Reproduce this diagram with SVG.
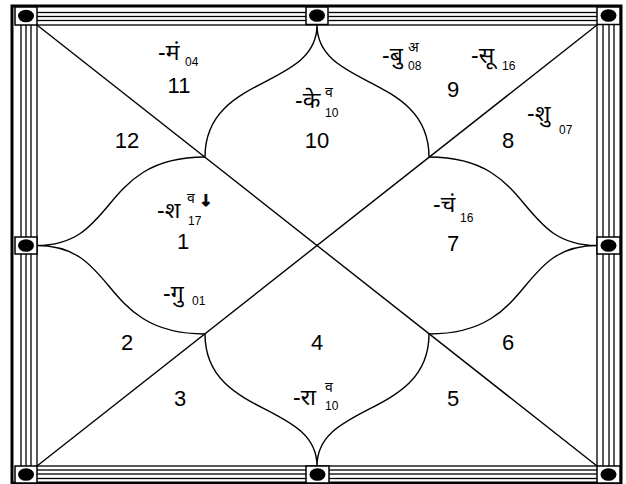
<svg xmlns="http://www.w3.org/2000/svg" width="626" height="484" viewBox="0 0 626 484">
<style>
.fr{fill:none;stroke:#000;stroke-width:1.3}
.bx{fill:#fff;stroke:#000;stroke-width:1.5}
.dot{fill:#000}
.ln{fill:none;stroke:#000;stroke-width:1.4}
.num{font-family:"Liberation Sans",Arial,sans-serif;font-size:22px;fill:#000;text-anchor:middle}
.pl{font-family:"Liberation Sans","Noto Sans",sans-serif;font-size:23px;fill:#000}
.sm{font-family:"Liberation Sans","Noto Sans",sans-serif;font-size:12px;fill:#000}
.sv{font-family:"Liberation Sans","Noto Sans",sans-serif;font-size:14px;fill:#000}
.ar{font-family:"DejaVu Sans",sans-serif;font-size:16px;font-weight:bold;fill:#000;stroke:#000;stroke-width:0.8}
</style>
<rect width="626" height="484" fill="#fff"/>
<g id="frame">
<rect x="12" y="6" width="609" height="477" fill="none" stroke="#000" stroke-width="3"/>
<rect class="fr" x="21" y="12.5" width="593" height="466"/>
<rect class="fr" x="26" y="16.5" width="583" height="457.5"/>
<rect class="fr" x="31" y="20.5" width="572" height="449.5"/>
<rect class="fr" x="37" y="25" width="560" height="441" stroke-width="1.5"/>
<rect class="bx" x="15" y="7" width="22" height="18"/>
<rect class="bx" x="306" y="7" width="22" height="17.5"/>
<rect class="bx" x="597" y="7" width="23" height="17.5"/>
<rect class="bx" x="15" y="237" width="22" height="17"/>
<rect class="bx" x="597" y="237" width="23" height="17"/>
<rect class="bx" x="15" y="466" width="22" height="17"/>
<rect class="bx" x="306" y="466" width="23" height="17"/>
<rect class="bx" x="597" y="466" width="23" height="17"/>
<ellipse class="dot" cx="26" cy="16" rx="8" ry="6.3"/>
<ellipse class="dot" cx="317" cy="15.5" rx="8" ry="6.3"/>
<ellipse class="dot" cx="608.5" cy="15.5" rx="8" ry="6.3"/>
<ellipse class="dot" cx="26" cy="245.5" rx="8" ry="6.3"/>
<ellipse class="dot" cx="608.5" cy="245.5" rx="8" ry="6.3"/>
<ellipse class="dot" cx="26" cy="474.5" rx="8" ry="6.3"/>
<ellipse class="dot" cx="317.5" cy="474.5" rx="8" ry="6.3"/>
<ellipse class="dot" cx="608.5" cy="474.5" rx="8" ry="6.3"/>
</g>
<g id="connectors">
<line class="ln" x1="37" y1="25" x2="597" y2="466"/>
<line class="ln" x1="597" y1="25" x2="37" y2="466"/>
<path class="ln" d="M205,157 C205,74 317,89 317,25 C317,89 429,74 429,157"/>
<path class="ln" d="M205,157 C99.4,157 118.5,245.5 37,245.5 C118.5,245.5 99.4,334 205,334"/>
<path class="ln" d="M429,157 C534.6,157 515.5,245.5 597,245.5 C515.5,245.5 534.6,334 429,334"/>
<path class="ln" d="M205,334 C205,417 317,402 317,466 C317,402 429,417 429,334"/>
</g>
<g id="house1">
<text class="num" x="183" y="249">1</text>
<text class="pl" x="157" y="218">-श</text><text class="sv" x="187" y="203">व</text><text class="ar" x="199" y="206">↓</text><text class="sm" x="188" y="225">17</text>
<text class="pl" x="163" y="301">-गु</text><text class="sm" x="192" y="305">01</text>
</g>
<g id="house2"><text class="num" x="127" y="350">2</text></g>
<g id="house3"><text class="num" x="180" y="406">3</text></g>
<g id="house4">
<text class="num" x="317" y="350">4</text>
<text class="pl" x="293" y="405">-रा</text><text class="sv" x="325" y="392">व</text><text class="sm" x="325" y="410">10</text>
</g>
<g id="house5"><text class="num" x="453" y="406">5</text></g>
<g id="house6"><text class="num" x="508" y="350">6</text></g>
<g id="house7">
<text class="num" x="453" y="251">7</text>
<text class="pl" x="433" y="212">-चं</text><text class="sm" x="460" y="222">16</text>
</g>
<g id="house8">
<text class="num" x="508" y="148">8</text>
<text class="pl" x="527" y="121">-शु</text><text class="sm" x="559" y="134">07</text>
</g>
<g id="house9">
<text class="num" x="453" y="97">9</text>
<text class="pl" x="382" y="63">-बु</text><text class="sv" x="408" y="52">अ</text><text class="sm" x="408" y="70">08</text>
<text class="pl" x="471" y="63">-सू</text><text class="sm" x="502" y="70">16</text>
</g>
<g id="house10">
<text class="num" x="317" y="148">10</text>
<text class="pl" x="295" y="108">-के</text><text class="sv" x="325" y="97">व</text><text class="sm" x="325" y="117">10</text>
</g>
<g id="house11">
<text class="num" x="179" y="93">11</text>
<text class="pl" x="158" y="60">-मं</text><text class="sm" x="185" y="66">04</text>
</g>
<g id="house12"><text class="num" x="127" y="148">12</text></g>
</svg>
